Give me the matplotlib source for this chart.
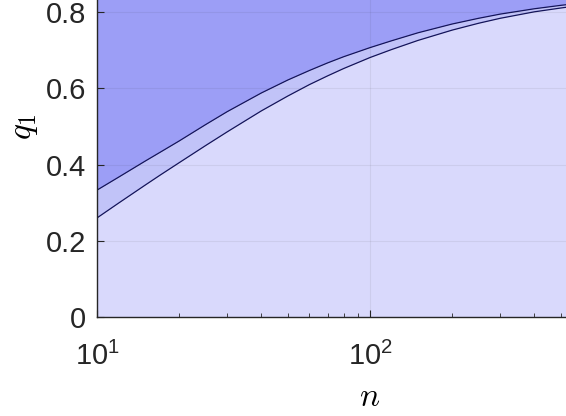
import numpy as np
import matplotlib
matplotlib.use("Agg")
import matplotlib.pyplot as plt

plt.rcParams['font.family'] = ['Liberation Sans', 'DejaVu Sans']

# values
n_vals = [10, 12, 15, 17, 20, 25, 30, 40, 50, 60, 70, 80, 100, 120, 150,
          200, 250, 300, 400, 500, 700, 1000]
q_upper = [0.333, 0.367, 0.409, 0.432, 0.462, 0.505, 0.539, 0.588, 0.622, 0.647,
           0.667, 0.683, 0.707, 0.725, 0.746, 0.769, 0.784, 0.795, 0.809, 0.818,
           0.830, 0.839]
q_lower = [0.260, 0.299, 0.346, 0.372, 0.405, 0.450, 0.486, 0.541, 0.580, 0.610,
           0.633, 0.652, 0.681, 0.702, 0.726, 0.753, 0.771, 0.784, 0.801, 0.811,
           0.825, 0.836]
y_ticks = [0, 0.2, 0.4, 0.6, 0.8, 1.0]
y_ticklabels = ['0', '0.2', '0.4', '0.6', '0.8', '1']

fig = plt.figure(figsize=(5.66, 4.16), dpi=100)
ax = fig.add_axes([97 / 566, 99 / 416, 546 / 566, 381 / 416])

n = np.array(n_vals)
up = np.array(q_upper)
lo = np.array(q_lower)

# regions
ax.fill_between(n, up, 1.0, color='#9c9ef6', lw=0)
ax.fill_between(n, lo, up, color='#c1c3f8', lw=0)
ax.fill_between(n, 0, lo, color='#d9d9fc', lw=0)
ax.plot(n, up, color='#14145a', lw=0.9)
ax.plot(n, lo, color='#14145a', lw=0.9)

ax.set_xscale('log')
ax.set_xlim(10, 1000)
ax.set_ylim(0, 1)
ax.set_yticks(y_ticks)
ax.set_yticklabels(y_ticklabels)

ax.grid(True, which='major', color='#262626', alpha=0.07, lw=0.8)
ax.set_axisbelow(False)

ax.tick_params(axis='both', which='both', direction='in', colors='#262626',
               labelcolor='#262626', labelsize=21)
ax.tick_params(axis='y', which='major', length=5, pad=8)
ax.tick_params(axis='x', which='major', length=5, pad=18)
ax.tick_params(axis='x', which='minor', length=3)
for s in ax.spines.values():
    s.set_color('#262626')
    s.set_linewidth(1.0)

ax.set_xlabel('$n$', fontsize=24, math_fontfamily='cm')
ax.set_ylabel('$q_1$', fontsize=24, math_fontfamily='cm')
ax.xaxis.set_label_coords(0.5, -(398 - 317) / 381)
ax.xaxis.label.set_va('center')
ax.yaxis.set_label_coords((24 - 97) / 546, 0.5)
ax.yaxis.label.set_va('center')

fig.savefig('out.png', dpi=100)
